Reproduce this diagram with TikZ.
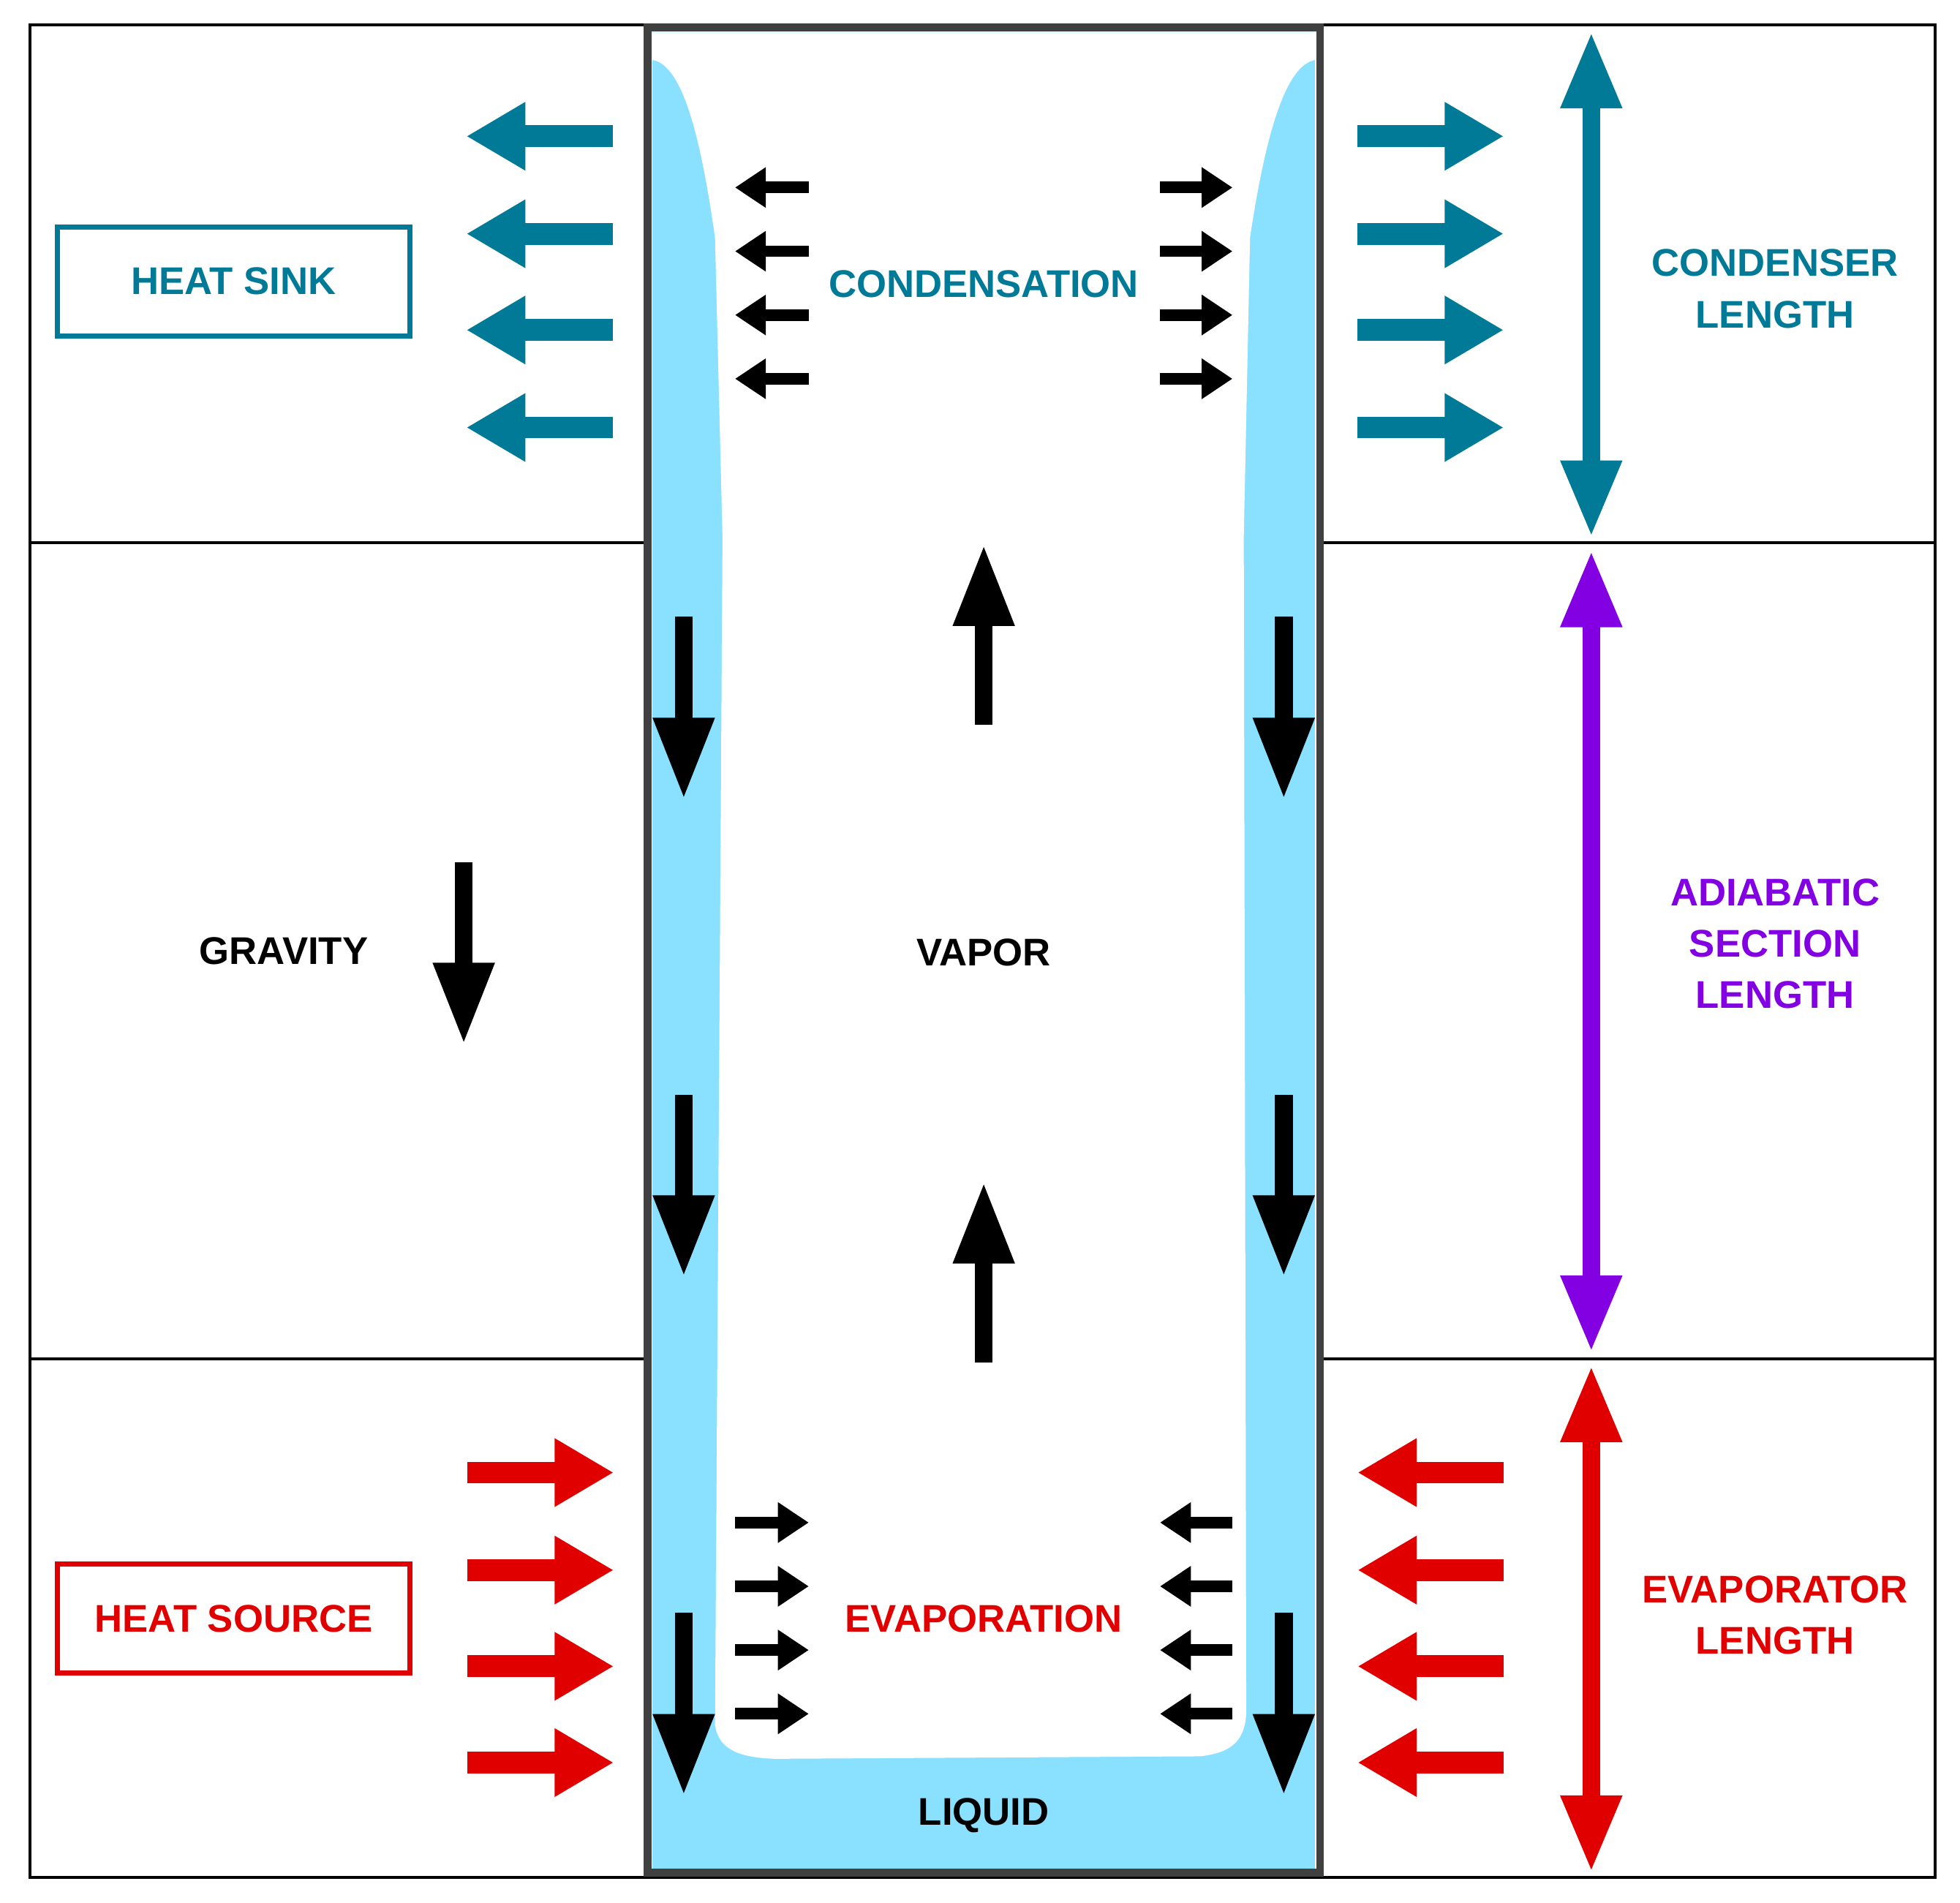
\documentclass[tikz,border=0pt]{standalone}
\usepackage{fontspec}
\setmainfont{Liberation Sans}
\usetikzlibrary{arrows.meta,positioning,calc}
\definecolor{teal}{RGB}{0,122,150}
\definecolor{hred}{RGB}{225,0,0}
\definecolor{purp}{RGB}{130,0,225}
\definecolor{liq}{RGB}{138,224,255}
\definecolor{wall}{RGB}{64,64,64}
\tikzset{
  lbl/.style={font=\bfseries\fontsize{15}{20}\selectfont, align=center},
  big/.style={line width=8.5pt, -{Triangle[width=25pt,length=23pt]}},
  dbl/.style={line width=7pt, {Triangle[width=22pt,length=30pt]}-{Triangle[width=22pt,length=30pt]}},
  small/.style={line width=4.5pt, -{Triangle[width=15pt,length=12pt]}},
  mid/.style={line width=7pt, -{Triangle[width=22pt,length=32pt]}},
  box/.style={draw, line width=2pt, minimum width=4.82cm, minimum height=1.49cm},
}
\begin{document}
\begin{tikzpicture}[x=0.01709cm, y=-0.01709cm]
        \useasboundingbox (0,0) rectangle (1568,1522);

        % frame and sections
        \draw[line width=1.2pt] (24,20) rectangle (1548,1502);
        \draw[line width=1.2pt] (24,434) -- (518,434) (1056,434) -- (1548,434);
        \draw[line width=1.2pt] (24,1087) -- (518,1087) (1056,1087) -- (1548,1087);

        % tube with liquid
        \fill[white] (518,22) rectangle (1056,1498);
        \fill[liq] (522,26) rectangle (1052,1495);
        \fill[white] (522,26) -- (522,48) .. controls (548,52) and (562,120) .. (572,190)
            -- (578,430) -- (572,1380) .. controls (575,1400) and (592,1406) .. (620,1407)
            -- (960,1405) .. controls (988,1402) and (996,1390) .. (997,1370)
            -- (995,430) -- (1000,190) .. controls (1012,110) and (1028,52) .. (1052,48)
            -- (1052,26) -- cycle;
        \draw[wall, line width=3pt] (518,22) rectangle (1056,1498);

        % heat in and out
        \foreach \y [count=\i] in {109,187,264,342} {
            \coordinate (sinkA\i) at (490,\y); \coordinate (sinkB\i) at (373,\y);
            \coordinate (condA\i) at (1086,\y); \coordinate (condB\i) at (1203,\y);
            \draw[big, teal] (sinkA\i) -- (sinkB\i);
            \draw[big, teal] (condA\i) -- (condB\i);
        }
        \foreach \y [count=\i] in {1178,1256,1333,1410} {
            \coordinate (srcA\i) at (374,\y); \coordinate (srcB\i) at (491,\y);
            \coordinate (evapA\i) at (1203,\y); \coordinate (evapB\i) at (1086,\y);
            \draw[big, hred] (srcA\i) -- (srcB\i);
            \draw[big, hred] (evapA\i) -- (evapB\i);
        }

        % phase change arrows
        \foreach \y [count=\i] in {150,201,252,303} {
            \coordinate (cl\i) at (647,\y); \coordinate (cL\i) at (588,\y);
            \coordinate (cr\i) at (928,\y); \coordinate (cR\i) at (986,\y);
            \draw[small] (cl\i) -- (cL\i);
            \draw[small] (cr\i) -- (cR\i);
        }
        \foreach \y [count=\i] in {1218,1269,1320,1371} {
            \coordinate (el\i) at (588,\y); \coordinate (eL\i) at (647,\y);
            \coordinate (er\i) at (986,\y); \coordinate (eR\i) at (928,\y);
            \draw[small] (el\i) -- (eL\i);
            \draw[small] (er\i) -- (eR\i);
        }

        % liquid return
        \foreach \t/\b [count=\i] in {493/640,876/1022,1290/1437} {
            \coordinate (dl\i) at (547,\t); \coordinate (dL\i) at (547,\b);
            \coordinate (dr\i) at (1027,\t); \coordinate (dR\i) at (1027,\b);
            \draw[mid] (dl\i) -- (dL\i);
            \draw[mid] (dr\i) -- (dR\i);
        }

        % vapor flow and gravity
        \coordinate (v1) at (787,580); \coordinate (V1) at (787,435);
        \coordinate (v2) at (787,1090); \coordinate (V2) at (787,945);
        \coordinate (g) at (371,690); \coordinate (G) at (371,836);
        \draw[mid] (v1) -- (V1);
        \draw[mid] (v2) -- (V2);
        \draw[mid] (g) -- (G);

        % section lengths
        \coordinate (c1) at (1273,25); \coordinate (c2) at (1273,430);
        \coordinate (a1) at (1273,440); \coordinate (a2) at (1273,1082);
        \coordinate (e1) at (1273,1092); \coordinate (e2) at (1273,1498);
        \draw[dbl, teal] (c1) -- (c2);
        \draw[dbl, purp] (a1) -- (a2);
        \draw[dbl, hred] (e1) -- (e2);

        % labels
        \node[box, lbl, teal] (sink) at (187,225) {HEAT SINK};
        \node[box, lbl, hred] (source) at (187,1295) {HEAT SOURCE};
        \node[lbl, teal] (condensation) at (787,227) {CONDENSATION};
        \node[lbl, hred] (evaporation) at (787,1295) {EVAPORATION};
        \node[lbl] (vapor) at (787,762) {VAPOR};
        \node[lbl] (liquid) at (787,1452) {LIQUID};
        \node[lbl] (gravity) at (227,761) {GRAVITY};
        \node[lbl, teal] (condlen) at (1420,231) {CONDENSER\\LENGTH};
        \node[lbl, purp] (adilen) at (1420,755) {ADIABATIC\\SECTION\\LENGTH};
        \node[lbl, hred] (evaplen) at (1420,1292) {EVAPORATOR\\LENGTH};
\end{tikzpicture}
\end{document}
